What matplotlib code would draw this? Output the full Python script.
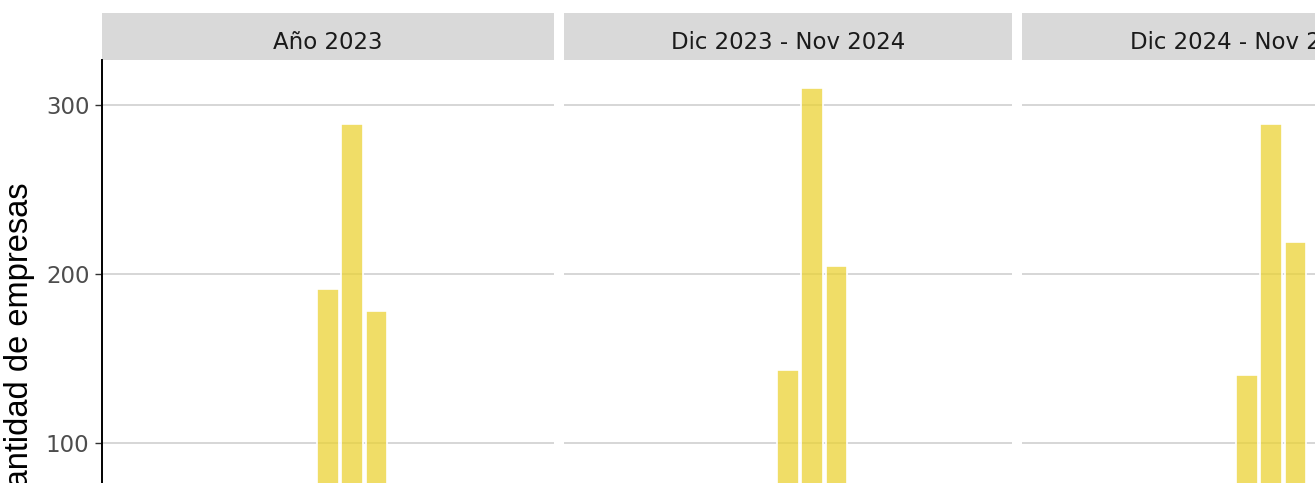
import matplotlib
matplotlib.use("Agg")
from matplotlib import pyplot as plt
from matplotlib.patches import Rectangle

# Data
periods = ["Año 2023", "Dic 2023 - Nov 2024", "Dic 2024 - Nov 2025"]
positions = [0, 1, 2]
values_2023 = [191, 289, 178]
values_2324 = [143, 310, 205]
values_2425 = [140, 289, 219]
all_values = [values_2023, values_2324, values_2425]

W, H = 1315, 483
fig = plt.figure(figsize=(W / 100, H / 100), dpi=100)

bar_face = (0.922, 0.824, 0.204, 0.75)
grid_col = "#CCCCCC"
lefts = [102, 564, 1022]
widths = [452, 448, 450]
px_per_unit = 24.25
top = 60
strip_h = 47

for i, (period, vals) in enumerate(zip(periods, all_values)):
    ax = fig.add_axes([lefts[i] / W, 0, widths[i] / W, (H - top) / H])
    ax.bar(positions, vals, width=0.9, color=bar_face, edgecolor="white",
           linewidth=1.2, zorder=2)
    half = widths[i] / 2 / px_per_unit
    ax.set_xlim(-half, half)
    ax.set_ylim(76.3, 326.6)
    ax.set_yticks([100, 200, 300])
    ax.yaxis.grid(True, color=grid_col, linewidth=1.1, zorder=0)
    ax.set_axisbelow(True)
    ax.set_xticks([])
    for s in ["top", "right", "bottom"]:
        ax.spines[s].set_visible(False)
    if i == 0:
        ax.spines["left"].set_linewidth(1.4)
        ax.spines["left"].set_color("black")
        ax.tick_params(axis="y", length=5, width=1.0, color="#333333",
                       labelsize=16.5, labelcolor="#4D4D4D", pad=4)
    else:
        ax.spines["left"].set_visible(False)
        ax.tick_params(axis="y", length=0, labelleft=False)

    # facet strip
    sh = strip_h / (H - top)
    ax.add_patch(Rectangle((0, 1), 1, sh, transform=ax.transAxes,
                           facecolor="#D9D9D9", edgecolor="none", clip_on=False))
    ax.text(0.5, 1 + (60 - 49) / (H - top), period, transform=ax.transAxes,
            ha="center", va="baseline", fontsize=16.5, color="#1A1A1A")

fig.text(20 / W, 1 - 347 / H, "Cantidad de empresas", rotation=90,
         ha="center", va="center", fontsize=23.5, family="Liberation Sans",
         color="black")

fig.savefig("out.png", dpi=100, facecolor="white")
